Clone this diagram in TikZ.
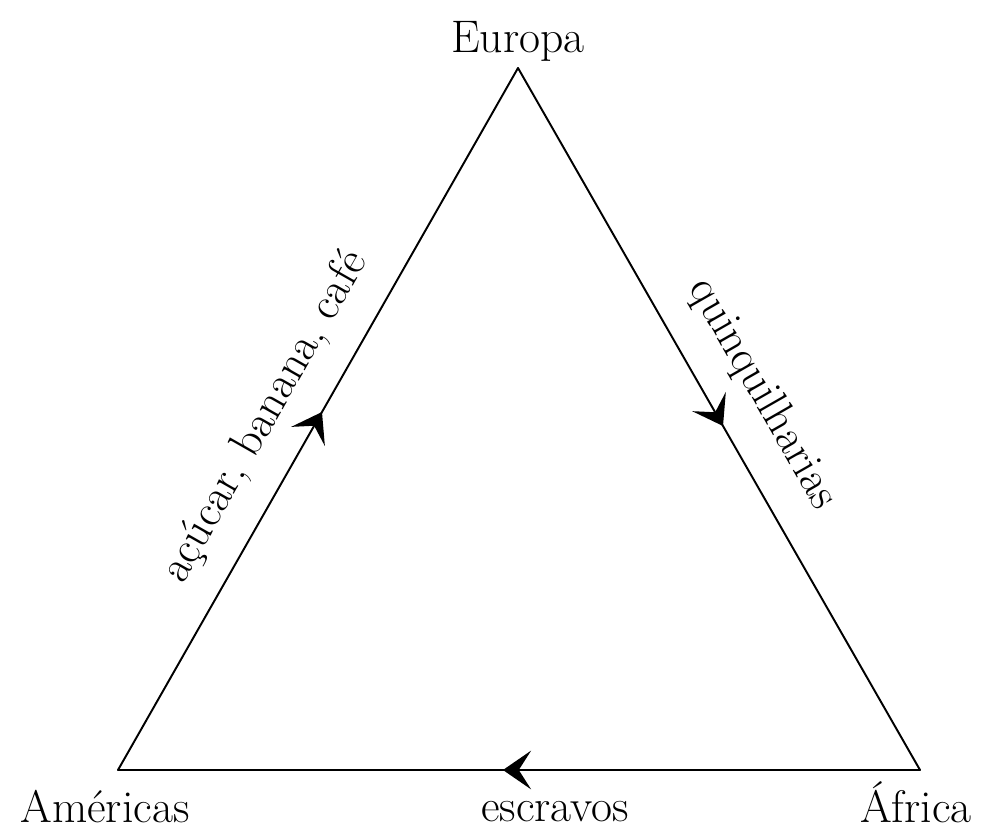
\documentclass[tikz,border=0pt]{standalone}
\usetikzlibrary{arrows.meta,decorations.markings,positioning}
\tikzset{
  edge/.style={line width=1.1pt, line cap=round, postaction={decorate},
    decoration={markings, mark=at position #1 with {\arrow{Stealth[length=16pt,width=22pt,inset=7pt]}}}},
  edge/.default=0.51,
  lbl/.style={font=\fontsize{26}{30}\selectfont, inner sep=0pt}
}
\begin{document}
\begin{tikzpicture}[x=0.02cm, y=0.02cm]
	\useasboundingbox (0,0) rectangle (997,832);
	\coordinate (eu) at (518,764);
	\coordinate (am) at (118,62);
	\coordinate (af) at (920,62);
	
	\node (europa) [lbl, anchor=base] at (518,779) {Europa};
	\node (americas) [lbl, anchor=base] at (105,10) {Américas};
	\node (africa) [lbl, anchor=base] at (916,10) {África};
	
	\draw[edge] (am) -- node (produtos) [lbl, pos=0.47, sloped, above=0.5cm] {açúcar, banana, café} (eu);
	\draw[edge] (eu) -- node (trocas) [lbl, pos=0.5, sloped, above=0.58cm] {quinquilharias} (af);
	\draw[edge=0.52] (af) -- node (carga) [lbl, pos=0.455, anchor=base, yshift=-1.04cm] {escravos} (am);
\end{tikzpicture}
\end{document}
